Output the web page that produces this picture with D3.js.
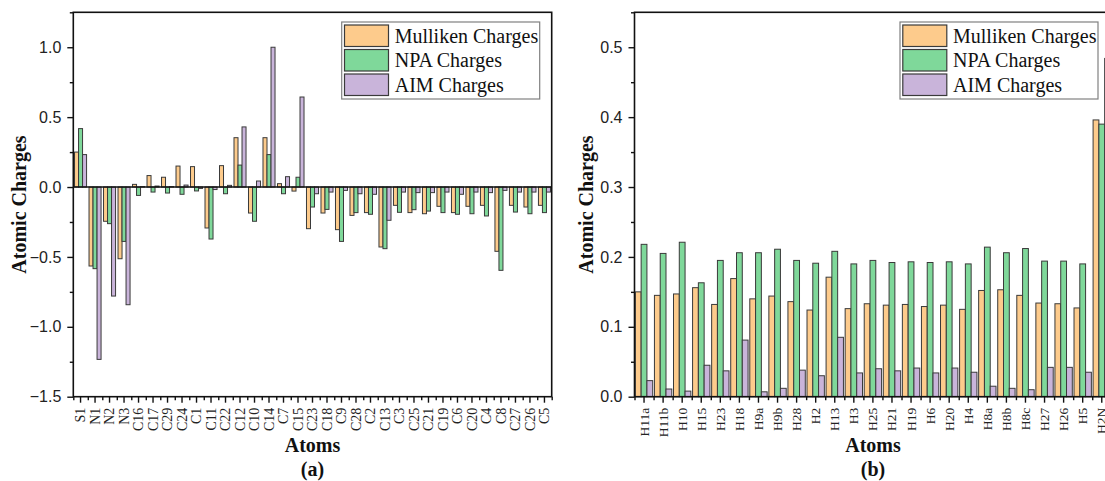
<!DOCTYPE html>
<html>
<head>
<meta charset="utf-8">
<script src="https://cdn.jsdelivr.net/npm/d3@7"></script>
<style>
  html, body { margin: 0; padding: 0; background: #fff; overflow: hidden; }
  svg { display: block; }
</style>
</head>
<body>
<svg id="chart" width="1105" height="481"></svg>
<script>
// ---------------- DATA ----------------
const seriesNames = ["Mulliken Charges", "NPA Charges", "AIM Charges"];

const atomsA = ["S1","N1","N2","N3","C16","C17","C29","C24","C1","C11","C22","C12","C10","C14","C7","C15",
  "C23","C18","C9","C28","C2","C13","C3","C25","C21","C19","C6","C20","C4","C8","C27","C26","C5"];
const mullikenA = [0.25,-0.565,-0.245,-0.513,0.019,0.082,0.07,0.15,0.146,-0.293,0.153,0.353,-0.186,0.353,0.024,-0.029,
  -0.298,-0.186,-0.305,-0.203,-0.183,-0.429,-0.131,-0.183,-0.191,-0.138,-0.183,-0.138,-0.131,-0.46,-0.131,-0.143,-0.131];
const npaA = [0.418,-0.584,-0.262,-0.389,-0.06,-0.036,-0.043,-0.052,-0.028,-0.372,-0.048,0.157,-0.245,0.232,-0.048,0.07,
  -0.143,-0.16,-0.389,-0.183,-0.195,-0.441,-0.181,-0.162,-0.172,-0.183,-0.195,-0.191,-0.207,-0.596,-0.179,-0.191,-0.183];
const aimA = [0.232,-1.233,-0.78,-0.842,0.003,0.007,0.003,0.014,-0.01,-0.018,0.012,0.43,0.043,1.0,0.074,0.644,
  -0.048,-0.036,-0.024,-0.048,-0.052,-0.238,-0.036,-0.04,-0.04,-0.036,-0.052,-0.036,-0.04,-0.024,-0.036,-0.036,-0.036];
const yTicksA = [-1.5,-1.0,-0.5,0.0,0.5,1.0];
const yMinorA = [-1.25,-0.75,-0.25,0.25,0.75,1.25];
const yDomainA = [-1.5, 1.25];

const atomsB = ["H11a","H11b","H10","H15","H23","H18","H9a","H9b","H28","H2","H13","H3","H25","H21","H19","H6",
  "H20","H4","H8a","H8b","H8c","H27","H26","H5","H2N"];
const mullikenB = [0.150,0.145,0.147,0.156,0.132,0.169,0.140,0.144,0.136,0.124,0.171,0.126,0.133,0.131,0.132,0.129,
  0.131,0.125,0.152,0.153,0.145,0.134,0.133,0.127,0.396];
const npaB = [0.218,0.205,0.221,0.163,0.195,0.206,0.206,0.211,0.195,0.191,0.208,0.190,0.195,0.192,0.193,0.192,
  0.193,0.190,0.214,0.206,0.212,0.194,0.194,0.190,0.390];
const aimB = [0.023,0.011,0.008,0.045,0.037,0.081,0.007,0.012,0.038,0.030,0.085,0.034,0.040,0.037,0.041,0.034,
  0.041,0.035,0.015,0.012,0.010,0.042,0.042,0.035,0.484];
const yTicksB = [0.0,0.1,0.2,0.3,0.4,0.5];
const yMinorB = [0.05,0.15,0.25,0.35,0.45,0.55];
const yDomainB = [0, 0.55];

const panelLabels = ["(a)", "(b)"];
const xTitle = "Atoms";
const yTitle = "Atomic Charges";

// ---------------- STYLE ----------------
const colors = ["#FDCB8C", "#7FD89A", "#C9B4DA"];
const svg = d3.select("#chart");

function drawPanel(p) {
  const g = svg.append("g");
  const n = p.cats.length;
  const x0 = d3.scaleBand().domain(p.cats).range([p.left, p.right])
    .paddingInner(p.pad).paddingOuter(p.pad / 2);
  const x1 = d3.scaleBand().domain(seriesNames).range([0, x0.bandwidth()]);
  const y = d3.scaleLinear().domain(p.yDomain).range([p.bottom, p.top]);
  const xb = d3.scaleLinear().domain([0, n]).range([p.left, p.right]);

  const series = [p.m, p.npa, p.aim];
  const rows = [];
  p.cats.forEach((c, i) => series.forEach((s, k) => rows.push({c, k, v: s[i]})));

  g.append("g").selectAll("rect").data(rows).join("rect")
    .attr("x", d => x0(d.c) + x1(seriesNames[d.k]))
    .attr("width", x1.bandwidth())
    .attr("y", d => y(Math.max(0, d.v)))
    .attr("height", d => Math.abs(y(d.v) - y(0)))
    .attr("fill", d => colors[d.k])
    .attr("stroke", "#3a3a3a")
    .attr("stroke-width", 1);

  // zero line
  if (p.yDomain[0] < 0) {
    g.append("line").attr("x1", p.left).attr("x2", p.right)
      .attr("y1", y(0)).attr("y2", y(0))
      .attr("stroke", "#111").attr("stroke-width", 1.6);
  }

  // frame
  g.append("rect").attr("x", p.left).attr("y", p.top)
    .attr("width", p.right - p.left).attr("height", p.bottom - p.top)
    .attr("fill", "none").attr("stroke", "#111").attr("stroke-width", 1.6);

  // y axis
  const yAx = g.append("g").attr("transform", `translate(${p.left},0)`)
    .call(d3.axisLeft(y).tickValues(p.yTicks).tickFormat(d3.format(".1f")).tickSize(6).tickPadding(6));
  yAx.select(".domain").remove();
  yAx.selectAll("line").attr("stroke", "#111").attr("stroke-width", 1.4);
  yAx.selectAll("text").attr("font-family", "'Liberation Sans', Arial, sans-serif")
    .attr("font-size", 16).attr("fill", "#222");
  const yMin = g.append("g").attr("transform", `translate(${p.left},0)`)
    .call(d3.axisLeft(y).tickValues(p.yMinor.filter(v => v <= p.yDomain[1])).tickFormat("").tickSize(3.5));
  yMin.select(".domain").remove();
  yMin.selectAll("line").attr("stroke", "#111").attr("stroke-width", 1.4);

  // x axis
  const xAx = g.append("g").attr("transform", `translate(0,${p.bottom})`)
    .call(d3.axisBottom(x0).tickSize(6).tickPadding(3));
  xAx.select(".domain").remove();
  xAx.selectAll("line").attr("stroke", "#111").attr("stroke-width", 1.4);
  xAx.selectAll("text")
    .attr("font-family", "'Liberation Serif', 'Times New Roman', serif")
    .attr("font-size", p.xFont).attr("fill", "#222")
    .attr("text-anchor", "end")
    .attr("transform", "rotate(-90)")
    .attr("x", -11).attr("y", 0).attr("dy", "0.33em");
  const xMin = g.append("g").attr("transform", `translate(0,${p.bottom})`)
    .call(d3.axisBottom(xb).tickValues(d3.range(0, n + 1)).tickFormat("").tickSize(3.5));
  xMin.select(".domain").remove();
  xMin.selectAll("line").attr("stroke", "#111").attr("stroke-width", 1.4);

  // titles
  const cx = (p.left + p.titleRight) / 2;
  g.append("text").attr("x", p.titleX).attr("y", (p.top + p.bottom) / 2)
    .attr("transform", `rotate(-90,${p.titleX},${(p.top + p.bottom) / 2})`)
    .attr("text-anchor", "middle")
    .attr("font-family", "'Liberation Serif', 'Times New Roman', serif")
    .attr("font-weight", "bold").attr("font-size", 20).attr("fill", "#111")
    .text(yTitle);
  g.append("text").attr("x", p.atomsX).attr("y", 452).attr("text-anchor", "middle")
    .attr("font-family", "'Liberation Serif', 'Times New Roman', serif")
    .attr("font-weight", "bold").attr("font-size", 20).attr("fill", "#111")
    .text(xTitle);
  g.append("text").attr("x", p.atomsX).attr("y", 476).attr("text-anchor", "middle")
    .attr("font-family", "'Liberation Serif', 'Times New Roman', serif")
    .attr("font-weight", "bold").attr("font-size", 20).attr("fill", "#111")
    .text(p.label);

  // legend
  const lg = g.append("g").attr("transform", `translate(${p.legX},22)`);
  lg.append("rect").attr("x", 0).attr("y", 0).attr("width", 198).attr("height", 77)
    .attr("fill", "#fff").attr("stroke", "#808080").attr("stroke-width", 1.2);
  seriesNames.forEach((name, k) => {
    lg.append("rect").attr("x", 2.8).attr("y", 3 + k * 24.5).attr("width", 44).attr("height", 21.5)
      .attr("fill", colors[k]).attr("stroke", "#3a3a3a").attr("stroke-width", 1.2);
    lg.append("text").attr("x", 53).attr("y", 20.5 + k * 24.5)
      .attr("font-family", "'Liberation Serif', 'Times New Roman', serif")
      .attr("font-size", 20).attr("fill", "#111").text(name);
  });
}

drawPanel({cats: atomsA, m: mullikenA, npa: npaA, aim: aimA, yDomain: yDomainA, yTicks: yTicksA, yMinor: yMinorA,
  left: 73.3, right: 551.7, top: 12.3, bottom: 396.7, pad: 0.17, xFont: 14,
  titleX: 26, titleRight: 551.7, atomsX: 312.5, label: panelLabels[0], legX: 341.7});
drawPanel({cats: atomsB, m: mullikenB, npa: npaB, aim: aimB, yDomain: yDomainB, yTicks: yTicksB, yMinor: yMinorB,
  left: 634.5, right: 1111.3, top: 12.3, bottom: 396.7, pad: 0.09, xFont: 13.5,
  titleX: 593, titleRight: 1111.3, atomsX: 873, label: panelLabels[1], legX: 900});
</script>
</body>
</html>
